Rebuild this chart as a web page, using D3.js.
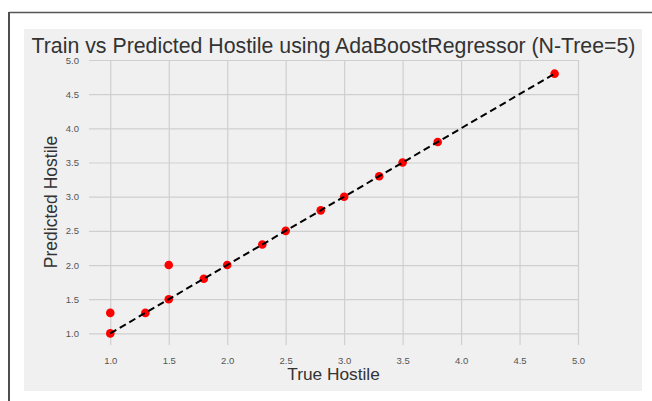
<!DOCTYPE html>
<html><head><meta charset="utf-8">
<script src="https://cdn.jsdelivr.net/npm/d3@7"></script>
<style>
html,body{margin:0;padding:0;background:#fff;}
svg{display:block;font-family:"Liberation Sans",Arial,Helvetica,sans-serif;}
</style></head>
<body>
<svg id="chart" width="652" height="401"></svg>
<script>
const trueVals = [1.0, 1.0, 1.3, 1.5, 1.5, 1.8, 2.0, 2.3, 2.5, 2.8, 3.0, 3.3, 3.5, 3.8, 4.8];
const predVals = [1.0, 1.3, 1.3, 1.5, 2.0, 1.8, 2.0, 2.3, 2.5, 2.8, 3.0, 3.3, 3.5, 3.8, 4.8];
const xTicks = [1.0, 1.5, 2.0, 2.5, 3.0, 3.5, 4.0, 4.5, 5.0];
const yTicks = [1.0, 1.5, 2.0, 2.5, 3.0, 3.5, 4.0, 4.5, 5.0];
const lineEnds = [1.0, 4.8];
const titleText = "Train vs Predicted Hostile using AdaBoostRegressor (N-Tree=5)";
const xLabel = "True Hostile";
const yLabel = "Predicted Hostile";

const svg = d3.select("#chart");
// outer frame lines
svg.append("line").attr("x1",9).attr("x2",9).attr("y1",12).attr("y2",401).attr("stroke","#222").attr("stroke-width",1.6);
svg.append("line").attr("x1",9).attr("x2",652).attr("y1",12.5).attr("y2",12.5).attr("stroke","#555").attr("stroke-width",1.3);
// figure background
svg.append("rect").attr("x",24).attr("y",29).attr("width",618).attr("height",362).attr("fill","#f0f0f0");

const L = 89, R = 578, T = 60, B = 345;
const x = d3.scaleLinear().domain([0.818, 5.0]).range([L, R]);
const y = d3.scaleLinear().domain([0.83, 5.0]).range([B, T]);

const g = svg.append("g");
// grid
g.append("g").attr("transform",`translate(0,${B})`)
  .call(d3.axisBottom(x).tickValues(xTicks).tickSize(-(B-T)).tickFormat(d3.format(".1f")).tickPadding(10))
  .call(a=>{a.select(".domain").remove();
    a.selectAll(".tick line").attr("stroke","#cfcfcf").attr("stroke-width",1.2);
    a.selectAll(".tick text").attr("fill","#555").attr("font-size","9.5px").attr("dy","0.9em");});
g.append("g").attr("transform",`translate(${L},0)`)
  .call(d3.axisLeft(y).tickValues(yTicks).tickSize(-(R-L)).tickFormat(d3.format(".1f")).tickPadding(10))
  .call(a=>{a.select(".domain").remove();
    a.selectAll(".tick line").attr("stroke","#cfcfcf").attr("stroke-width",1.2);
    a.selectAll(".tick text").attr("fill","#555").attr("font-size","9.5px");});

// points
g.append("g").selectAll("circle").data(trueVals.map((t,i)=>[t,predVals[i]])).join("circle")
  .attr("cx",d=>x(d[0])).attr("cy",d=>y(d[1])).attr("r",4.3).attr("fill","#ff0000");

// dashed identity line
g.append("path").datum(lineEnds)
  .attr("d",d3.line().x(d=>x(d)).y(d=>y(d)))
  .attr("fill","none").attr("stroke","#000").attr("stroke-width",2).attr("stroke-dasharray","7,4");

// title & labels
svg.append("text").attr("x",333.5).attr("y",53).attr("text-anchor","middle")
  .attr("font-size","21.3px").attr("fill","#333").text(titleText);
svg.append("text").attr("x",333.5).attr("y",380).attr("text-anchor","middle")
  .attr("font-size","17.3px").attr("fill","#333").text(xLabel);
svg.append("text").attr("transform","translate(57,202) rotate(-90)").attr("text-anchor","middle")
  .attr("font-size","17.5px").attr("fill","#333").text(yLabel);
</script>
</body></html>
